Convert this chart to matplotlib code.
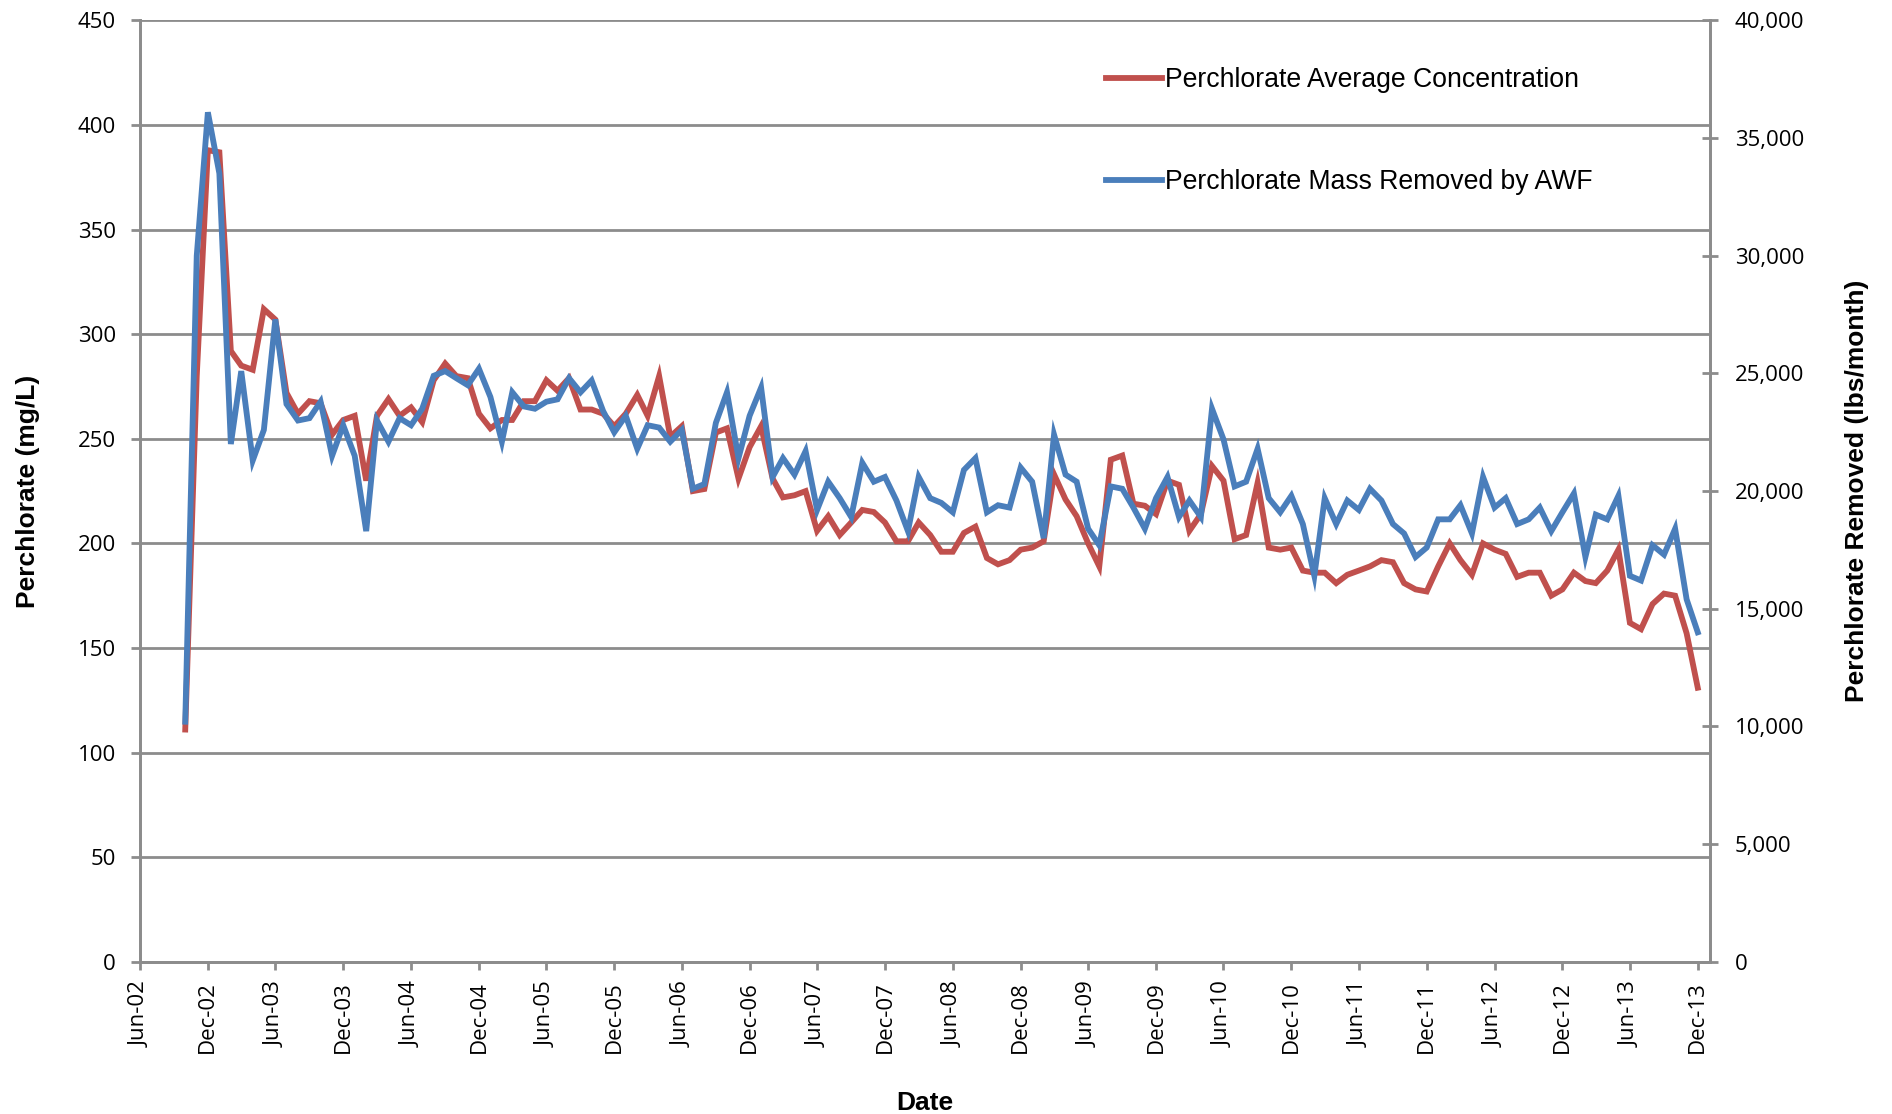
import numpy as np
import pandas as pd
import matplotlib
matplotlib.use('Agg')
import matplotlib.pyplot as plt
import matplotlib.dates as mdates
from matplotlib import font_manager
from matplotlib.ticker import FuncFormatter, MultipleLocator

# monthly samples, Oct-02 .. Dec-13
dates = pd.date_range('2002-10-01', '2013-12-01', freq='MS')

conc_mg_l = [111, 280, 388, 387, 292, 285, 283, 312, 307, 272, 262, 268, 267, 252, 259, 261,
             230, 261, 269, 261, 265, 258, 278, 286, 280, 279, 262, 255, 259, 259, 268, 268,
             278, 273, 279, 264, 264, 262, 256, 262, 271, 261, 280, 251, 256, 225, 226, 253,
             255, 231, 246, 256, 231, 222, 223, 225, 206, 213, 204, 210, 216, 215, 210, 201,
             201, 210, 204, 196, 196, 205, 208, 193, 190, 192, 197, 198, 201, 233, 221, 213,
             200, 189, 240, 242, 219, 218, 214, 230, 228, 206, 214, 237, 230, 202, 204, 229,
             198, 197, 198, 187, 186, 186, 181, 185, 187, 189, 192, 191, 181, 178, 177, 189,
             200, 192, 185, 200, 197, 195, 184, 186, 186, 175, 178, 186, 182, 181, 187, 197,
             162, 159, 171, 176, 175, 157, 131]

mass_lbs = [10200, 30000, 36100, 33500, 22000, 25100, 21300, 22600, 27300, 23700, 23000, 23100,
            23800, 21500, 22800, 21500, 18300, 23000, 22100, 23100, 22800, 23500, 24900, 25100,
            24800, 24500, 25200, 24000, 22100, 24200, 23600, 23500, 23800, 23900, 24800, 24200,
            24700, 23400, 22500, 23200, 21800, 22800, 22700, 22100, 22600, 20100, 20300, 22900,
            24200, 21400, 23200, 24400, 20600, 21400, 20700, 21700, 19200, 20400, 19700, 18900,
            21200, 20400, 20600, 19600, 18300, 20600, 19700, 19500, 19100, 20900, 21400, 19100,
            19400, 19300, 21000, 20400, 18000, 22400, 20700, 20400, 18400, 17700, 20200, 20100,
            19300, 18400, 19700, 20600, 18900, 19600, 18900, 23500, 22200, 20200, 20400, 21800,
            19700, 19100, 19800, 18600, 16400, 19700, 18600, 19600, 19200, 20100, 19600, 18600,
            18200, 17200, 17600, 18800, 18800, 19400, 18200, 20600, 19300, 19700, 18600, 18800,
            19300, 18300, 19100, 19900, 17200, 19000, 18800, 19800, 16400, 16200, 17700, 17300,
            18400, 15400, 14000]

label_red = 'Perchlorate Average Concentration'
label_blue = 'Perchlorate Mass Removed by AWF'

RED = '#C0504D'
BLUE = '#4A7EBB'
GRID = '#8C8C8C'

installed = {f.name for f in font_manager.fontManager.ttflist}
narrow = 'Liberation Sans Narrow' if 'Liberation Sans Narrow' in installed else 'Liberation Sans'
tick_font = 'Open Sans' if 'Open Sans' in installed else 'DejaVu Sans'
plt.rcParams['font.family'] = [tick_font, 'DejaVu Sans']

fig = plt.figure(figsize=(18.92, 11.14), dpi=100)
ax = fig.add_axes([0.074, 0.1367, 0.8298, 0.8449])
ax2 = ax.twinx()

l1, = ax.plot(dates, conc_mg_l, color=RED, lw=4.2, solid_joinstyle='miter', zorder=3)
l2, = ax2.plot(dates, mass_lbs, color=BLUE, lw=4.2, solid_joinstyle='miter', zorder=3)

ax.set_xlim(pd.Timestamp('2002-06-01'), pd.Timestamp('2014-01-03'))
ax.set_ylim(0, 450)
ax2.set_ylim(0, 40000)
ax.yaxis.set_major_locator(MultipleLocator(50))
ax2.yaxis.set_major_locator(MultipleLocator(5000))
ax2.yaxis.set_major_formatter(FuncFormatter(lambda v, p: f'{int(v):,}'))

ax.xaxis.set_major_locator(mdates.MonthLocator(bymonth=[6, 12], bymonthday=1))
ax.xaxis.set_major_formatter(mdates.DateFormatter('%b-%y'))
for lab in ax.get_xticklabels():
    lab.set_rotation(90)

ax.grid(axis='y', color=GRID, lw=2)
ax.set_axisbelow(True)
for a in (ax, ax2):
    for s in a.spines.values():
        s.set_color(GRID)
        s.set_linewidth(2)
ax.spines['top'].set_visible(False)
ax2.spines['top'].set_visible(False)

ax.tick_params(axis='x', direction='out', length=6, width=2, color=GRID,
               labelsize=16, pad=8)
ax.tick_params(axis='y', direction='out', length=6.5, width=2, color=GRID,
               labelsize=16, pad=11)
ax2.tick_params(axis='y', direction='inout', length=12, width=2, color=GRID,
                labelsize=16, pad=12)

lab_font = dict(family=['Liberation Sans', 'DejaVu Sans'], fontsize=19, fontweight='bold')
ax.set_ylabel('Perchlorate (mg/L)', labelpad=27, **lab_font)
ax2.set_ylabel('Perchlorate Removed (lbs/month)', labelpad=29, **lab_font)
ax.set_xlabel('Date', labelpad=27, **lab_font)

ax2.legend([l1, l2], [label_red, label_blue], loc='upper left',
           bbox_to_anchor=(0.6, 0.976), frameon=False,
           prop=dict(family=[narrow, 'DejaVu Sans'], size=19.2),
           handlelength=2.1, handletextpad=0.1, labelspacing=2.86)

fig.savefig('out.png', dpi=100)
